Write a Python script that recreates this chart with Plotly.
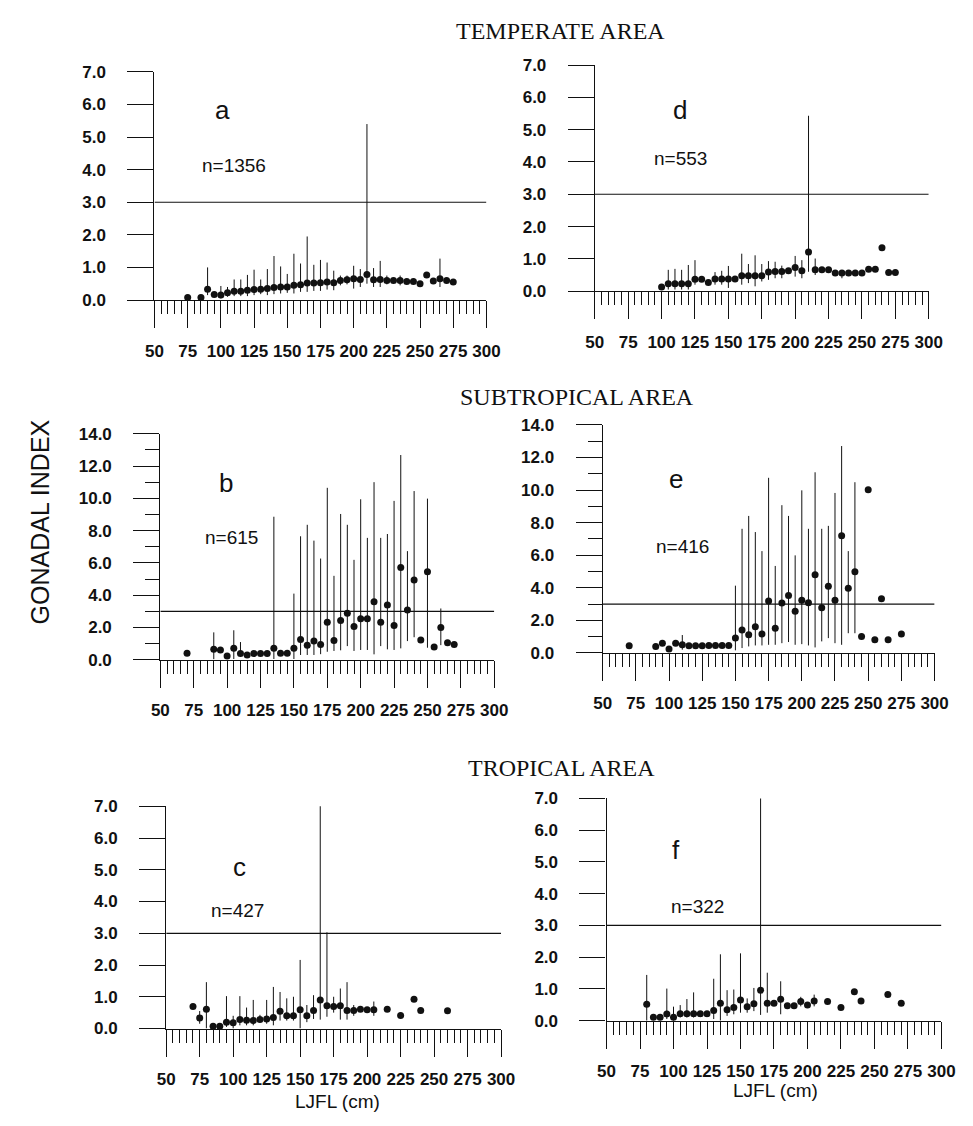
import plotly.graph_objects as go

# ---- Panel a: temperate area, n=1356 ----
x_a = [75, 85, 90, 95, 100, 105, 110, 115, 120, 125, 130, 135, 140, 145, 150, 155, 160, 165, 170, 175,
       180, 185, 190, 195, 200, 205, 210, 215, 220, 225, 230, 235, 240, 245, 250, 255, 260, 265, 270, 275]
m_a = [0.08, 0.08, 0.33, 0.17, 0.15, 0.22, 0.27, 0.27, 0.30, 0.32, 0.33, 0.35, 0.38, 0.40, 0.40, 0.45, 0.47, 0.52, 0.52, 0.53,
       0.55, 0.53, 0.60, 0.62, 0.65, 0.63, 0.78, 0.62, 0.63, 0.60, 0.60, 0.60, 0.57, 0.57, 0.50, 0.77, 0.58, 0.65, 0.60, 0.55]
hi_a = [0.08, 0.08, 1.00, 0.17, 0.43, 0.40, 0.63, 0.63, 0.77, 0.93, 0.63, 0.95, 1.35, 1.03, 0.80, 1.42, 1.12, 1.95, 1.08, 1.23,
        1.15, 0.90, 0.75, 0.75, 1.05, 0.95, 5.40, 0.98, 1.20, 0.75, 0.60, 0.75, 0.57, 0.57, 0.50, 0.77, 0.58, 1.27, 0.60, 0.55]
lo_a = [0.08, 0.08, 0.15, 0.17, 0.05, 0.10, 0.12, 0.12, 0.12, 0.15, 0.18, 0.15, 0.18, 0.20, 0.22, 0.20, 0.25, 0.25, 0.28, 0.28,
        0.32, 0.30, 0.45, 0.48, 0.35, 0.40, 0.50, 0.40, 0.40, 0.48, 0.60, 0.45, 0.57, 0.57, 0.50, 0.77, 0.58, 0.40, 0.60, 0.55]

# ---- Panel d: temperate area, n=553 ----
x_d = [100, 105, 110, 115, 120, 125, 130, 135, 140, 145, 150, 155, 160, 165, 170, 175, 180, 185,
       190, 195, 200, 205, 210, 215, 220, 225, 230, 235, 240, 245, 250, 255, 260, 265, 270, 275]
m_d = [0.13, 0.23, 0.23, 0.23, 0.23, 0.37, 0.37, 0.27, 0.38, 0.38, 0.38, 0.38, 0.48, 0.48, 0.48, 0.48, 0.59, 0.61,
       0.61, 0.63, 0.73, 0.63, 1.21, 0.66, 0.66, 0.66, 0.56, 0.56, 0.56, 0.56, 0.56, 0.68, 0.68, 1.34, 0.58, 0.58]
hi_d = [0.13, 0.66, 0.69, 0.66, 0.81, 0.96, 0.37, 0.27, 0.59, 0.63, 0.78, 0.38, 1.16, 0.84, 1.11, 0.84, 0.93, 0.91,
        0.79, 0.63, 1.09, 0.96, 5.43, 1.01, 0.66, 0.66, 0.56, 0.56, 0.56, 0.56, 0.56, 0.68, 0.68, 1.34, 0.58, 0.58]
lo_d = [0.13, 0.05, 0.05, 0.05, 0.05, 0.20, 0.37, 0.27, 0.20, 0.20, 0.10, 0.38, 0.20, 0.25, 0.15, 0.30, 0.35, 0.40,
        0.40, 0.63, 0.45, 0.40, 0.60, 0.50, 0.66, 0.66, 0.56, 0.40, 0.56, 0.56, 0.56, 0.68, 0.68, 1.34, 0.58, 0.58]

# ---- Panel b: subtropical area, n=615 ----
x_b = [70, 90, 95, 100, 105, 110, 115, 120, 125, 130, 135, 140, 145, 150, 155, 160, 165, 170, 175,
       180, 185, 190, 195, 200, 205, 210, 215, 220, 225, 230, 235, 240, 245, 250, 255, 260, 265, 270]
m_b = [0.41, 0.65, 0.61, 0.24, 0.71, 0.39, 0.30, 0.39, 0.39, 0.39, 0.71, 0.41, 0.41, 0.71, 1.26, 0.91, 1.16, 0.95, 2.33,
       1.20, 2.43, 2.88, 2.07, 2.54, 2.54, 3.59, 2.33, 3.39, 2.13, 5.72, 3.08, 4.95, 1.22, 5.46, 0.79, 2.00, 1.05, 0.95]
hi_b = [0.41, 1.70, 0.61, 0.24, 1.83, 1.10, 0.30, 0.39, 0.39, 0.39, 8.86, 0.41, 0.41, 4.10, 7.65, 8.36, 7.38, 6.27, 10.65,
        5.20, 9.03, 8.36, 6.19, 9.94, 7.55, 11.00, 7.55, 7.79, 9.84, 12.68, 6.73, 10.45, 1.22, 9.98, 0.79, 3.18, 1.05, 0.95]
lo_b = [0.41, 0.04, 0.61, 0.24, 0.05, 0.20, 0.30, 0.39, 0.39, 0.39, 0.05, 0.41, 0.41, 0.05, 0.30, 0.30, 0.30, 0.35, 0.50,
        0.55, 0.59, 0.85, 0.55, 0.61, 0.61, 0.34, 0.85, 0.65, 0.61, 0.71, 1.16, 1.40, 1.22, 0.75, 0.79, 0.91, 1.05, 0.95]

# ---- Panel e: subtropical area, n=416 ----
x_e = [70, 90, 95, 100, 105, 110, 115, 120, 125, 130, 135, 140, 145, 150, 155, 160, 165, 170, 175,
       180, 185, 190, 195, 200, 205, 210, 215, 220, 225, 230, 235, 240, 245, 250, 255, 260, 265, 275]
m_e = [0.44, 0.40, 0.60, 0.24, 0.60, 0.50, 0.44, 0.44, 0.44, 0.46, 0.46, 0.46, 0.46, 0.91, 1.41, 1.11, 1.61, 1.17, 3.19,
       1.51, 3.06, 3.53, 2.56, 3.23, 3.08, 4.80, 2.78, 4.09, 3.23, 7.20, 3.97, 4.98, 1.01, 10.02, 0.81, 3.33, 0.81, 1.17]
hi_e = [0.44, 0.40, 0.60, 0.24, 0.60, 1.10, 0.44, 0.44, 0.44, 0.46, 0.46, 0.46, 0.46, 4.13, 7.62, 8.41, 7.42, 6.25, 10.75,
        5.34, 9.07, 8.41, 5.99, 9.98, 7.62, 11.09, 7.62, 7.80, 9.82, 12.70, 6.25, 10.48, 1.01, 10.02, 0.81, 3.33, 0.81, 1.17]
lo_e = [0.44, 0.40, 0.60, 0.24, 0.60, 0.20, 0.44, 0.44, 0.44, 0.46, 0.46, 0.46, 0.46, 0.16, 0.30, 0.40, 0.46, 0.46, 0.50,
        0.50, 0.60, 0.67, 0.50, 0.54, 0.46, 0.34, 0.71, 0.91, 0.60, 0.50, 1.21, 1.21, 1.01, 10.02, 0.81, 3.33, 0.81, 1.17]

# ---- Panel c: tropical area, n=427 ----
x_c = [70, 75, 80, 85, 90, 95, 100, 105, 110, 115, 120, 125, 130, 135, 140, 145, 150, 155, 160, 165,
       170, 175, 180, 185, 190, 195, 200, 205, 215, 225, 235, 240, 260]
m_c = [0.69, 0.33, 0.61, 0.07, 0.07, 0.20, 0.18, 0.28, 0.26, 0.25, 0.28, 0.30, 0.35, 0.54, 0.40, 0.40, 0.59, 0.40, 0.57, 0.90,
       0.72, 0.69, 0.72, 0.57, 0.57, 0.61, 0.59, 0.59, 0.61, 0.41, 0.92, 0.57, 0.56]
hi_c = [0.69, 0.55, 1.46, 0.07, 0.07, 1.02, 0.40, 1.02, 0.66, 0.90, 0.43, 0.90, 1.31, 1.15, 0.95, 1.00, 2.16, 0.74, 1.05, 7.24,
        3.03, 1.00, 1.26, 1.46, 0.74, 0.65, 0.59, 0.85, 0.61, 0.41, 0.92, 0.57, 0.56]
lo_c = [0.69, 0.15, 0.00, 0.07, 0.07, 0.05, 0.00, 0.10, 0.10, 0.10, 0.20, 0.15, 0.10, 0.25, 0.25, 0.25, 0.00, 0.20, 0.30, 0.28,
        0.37, 0.50, 0.28, 0.28, 0.40, 0.61, 0.59, 0.40, 0.61, 0.41, 0.92, 0.57, 0.56]

# ---- Panel f: tropical area, n=322 ----
x_f = [80, 85, 90, 95, 100, 105, 110, 115, 120, 125, 130, 135, 140, 145, 150, 155, 160, 165,
       170, 175, 180, 185, 190, 195, 200, 205, 215, 225, 235, 240, 260, 270]
m_f = [0.52, 0.11, 0.11, 0.21, 0.11, 0.22, 0.22, 0.22, 0.22, 0.22, 0.32, 0.55, 0.34, 0.41, 0.65, 0.44, 0.53, 0.96,
       0.55, 0.55, 0.67, 0.47, 0.47, 0.60, 0.49, 0.62, 0.60, 0.41, 0.91, 0.62, 0.82, 0.55]
hi_f = [1.44, 0.11, 0.11, 1.01, 0.44, 0.49, 0.68, 0.89, 0.22, 0.22, 1.32, 2.09, 0.96, 0.98, 2.12, 0.70, 1.03, 7.25,
        1.51, 0.55, 1.24, 0.47, 0.47, 0.75, 0.49, 0.82, 0.60, 0.41, 0.91, 0.62, 0.82, 0.55]
lo_f = [0.00, 0.11, 0.11, 0.05, 0.00, 0.10, 0.10, 0.10, 0.22, 0.22, 0.05, 0.00, 0.15, 0.20, 0.25, 0.25, 0.30, 0.18,
        0.25, 0.55, 0.20, 0.47, 0.47, 0.45, 0.49, 0.45, 0.60, 0.41, 0.91, 0.62, 0.82, 0.55]

x_ticks = [50, 75, 100, 125, 150, 175, 200, 225, 250, 275, 300]
threshold = 3.0

W, H = 973, 1126
INK = "#111111"
SANS = "Liberation Sans, Arial, sans-serif"
SERIF = "Liberation Serif, Times New Roman, serif"


def px(v):
    """page x pixel -> paper fraction"""
    return v / W


def py(v):
    """page y pixel (from top) -> paper fraction"""
    return 1 - v / H


def label(text, cx, cy, font, angle=0):
    return dict(text=text, x=px(cx), y=py(cy), xref="paper", yref="paper", showarrow=False,
                xanchor="center", yanchor="middle", textangle=angle, font=font)


# panel key, series, y max, y label step, plot box in pixels (left, right, top, bottom), letter and n positions
panels = [
    ("a", x_a, m_a, hi_a, lo_a, 7, 1, (149, 489, 64, 296), (219, 103), (230, 159), "n=1356"),
    ("d", x_d, m_d, hi_d, lo_d, 7, 1, (600, 942, 57, 287), (687, 103), (688, 152), "n=553"),
    ("b", x_b, m_b, hi_b, lo_b, 14, 2, (155, 497, 432, 662), (222, 482), (228, 538), "n=615"),
    ("e", x_e, m_e, hi_e, lo_e, 14, 2, (608, 948, 423, 655), (683, 478), (690, 547), "n=416"),
    ("c", x_c, m_c, hi_c, lo_c, 7, 1, (161, 504, 811, 1037), (236, 873), (234, 917), "n=427"),
    ("f", x_f, m_f, hi_f, lo_f, 7, 1, (612, 955, 803, 1029), (683, 855), (705, 913), "n=322"),
]

fig = go.Figure()
annotations = []
shapes = []

for i, (key, xs, ms, his, los, ymax, ystep, box, letter_pos, n_pos, n_text) in enumerate(panels):
    k = "" if i == 0 else str(i + 1)
    left, right, top, bottom = box
    fig.add_trace(go.Scatter(
        x=xs, y=ms, mode="markers",
        marker=dict(size=7, color=INK),
        error_y=dict(type="data", symmetric=False,
                     array=[h - m for h, m in zip(his, ms)],
                     arrayminus=[m - l for m, l in zip(ms, los)],
                     thickness=1, width=0, color=INK),
        cliponaxis=False, showlegend=False,
        xaxis="x" + k, yaxis="y" + k,
    ))
    xa = dict(
        domain=[px(left), px(right)], range=[50, 300], anchor="y" + k,
        tickmode="array", tickvals=x_ticks, ticktext=[str(t) for t in x_ticks],
        ticks="outside", ticklen=27, tickwidth=1.2, tickcolor=INK,
        minor=dict(dtick=5, tick0=50, ticks="outside", ticklen=13, tickwidth=1.2, tickcolor=INK),
        showline=True, linecolor=INK, linewidth=1.2, showgrid=False, zeroline=False,
        tickfont=dict(family=SANS, size=17, color=INK, weight="bold"),
        ticklabelstandoff=8,
    )
    ya = dict(
        domain=[py(bottom), py(top)], range=[0, ymax], anchor="x" + k,
        tickmode="linear", tick0=0, dtick=ystep, tickformat=".1f",
        ticks="outside", ticklen=26, tickwidth=1.2, tickcolor=INK,
        showline=True, linecolor=INK, linewidth=1.2, showgrid=False, zeroline=False,
        tickfont=dict(family=SANS, size=17, color=INK, weight="bold"),
        ticklabelstandoff=18,
    )
    if ystep == 2:
        ya["minor"] = dict(dtick=1, tick0=0, ticks="outside", ticklen=14, tickwidth=1.2, tickcolor=INK)
    fig.update_layout(**{"xaxis" + k: xa, "yaxis" + k: ya})

    shapes.append(dict(type="line", xref="x" + k, yref="y" + k, x0=50, x1=300, y0=threshold, y1=threshold,
                       line=dict(color=INK, width=1.2)))
    annotations.append(label(key, letter_pos[0], letter_pos[1], dict(family=SANS, size=26, color=INK)))
    annotations.append(label(n_text, n_pos[0], n_pos[1], dict(family=SANS, size=19, color=INK)))

# region headings
for text, cx, cy in [("TEMPERATE AREA", 565, 22), ("SUBTROPICAL AREA", 582, 395), ("TROPICAL AREA", 566, 772)]:
    annotations.append(label(text, cx, cy, dict(family=SERIF, size=24, color=INK)))

# shared axis titles
annotations.append(label("GONADAL INDEX", 32, 522, dict(family=SANS, size=25, color=INK), angle=-90))
for cx, cy in [(336, 1111), (785, 1100)]:
    annotations.append(label("LJFL (cm)", cx, cy, dict(family=SANS, size=19, color=INK)))

fig.update_layout(
    width=W, height=H, margin=dict(l=0, r=0, t=0, b=0),
    paper_bgcolor="white", plot_bgcolor="white",
    annotations=annotations, shapes=shapes,
)

fig.write_html("out.html")
